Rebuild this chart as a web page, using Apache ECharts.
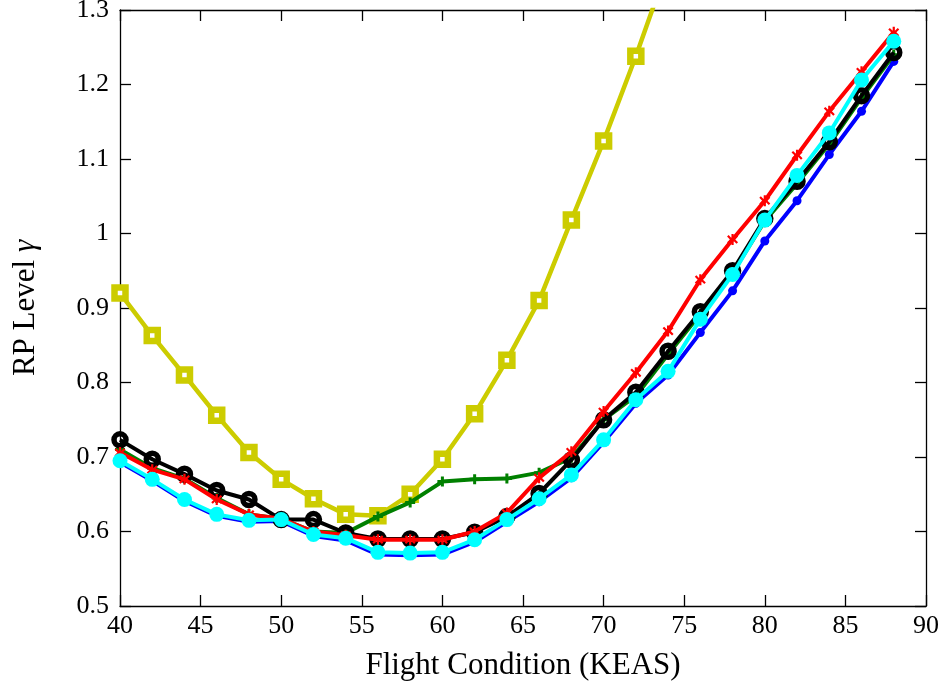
<!DOCTYPE html>
<html>
<head>
<meta charset="utf-8">
<script src="https://cdn.jsdelivr.net/npm/echarts@6/dist/echarts.min.js"></script>
<style>html,body{margin:0;padding:0;background:#fff}#c{width:945px;height:690px}</style>
</head>
<body>
<div id="c"></div>
<script>
const keas = [40,42,44,46,48,50,52,54,56,58,60,62,64,66,68,70,72,74,76,78,80,82,84,86,88];
const yellowVals = [0.92,0.863,0.81,0.756,0.706,0.67,0.644,0.623,0.621,0.65,0.697,0.758,0.83,0.91,1.018,1.124,1.238,1.36];
const blueVals  = [0.693,0.668,0.641,0.621,0.613,0.614,0.594,0.588,0.569,0.568,0.569,0.586,0.613,0.64,0.672,0.72,0.772,0.81,0.867,0.923,0.99,1.044,1.106,1.164,1.231];
const greenVals = [0.71,0.685,0.671,0.645,0.623,0.617,0.6,0.598,0.62,0.639,0.667,0.67,0.671,0.679,0.699,0.75,0.782,0.838,0.892,0.947,1.017,1.067,1.12,1.182,1.24];
const blackVals = [0.723,0.697,0.677,0.655,0.643,0.616,0.616,0.598,0.59,0.59,0.59,0.599,0.62,0.651,0.696,0.75,0.787,0.842,0.895,0.95,1.02,1.07,1.123,1.185,1.243];
const redVals   = [0.706,0.683,0.67,0.643,0.623,0.617,0.6,0.595,0.589,0.589,0.589,0.6,0.625,0.672,0.707,0.761,0.813,0.869,0.938,0.992,1.044,1.105,1.164,1.217,1.27];
const cyanVals  = [0.695,0.67,0.643,0.623,0.615,0.616,0.596,0.591,0.572,0.571,0.572,0.589,0.616,0.644,0.676,0.723,0.777,0.815,0.885,0.945,1.018,1.078,1.135,1.206,1.258];
const xTicks = [40,45,50,55,60,65,70,75,80,85,90];
const yTicks = [0.5,0.6,0.7,0.8,0.9,1.0,1.1,1.2,1.3];

const FONT = 'Liberation Serif';
const pairs = vals => vals.map((v,i)=>[keas[i], v]);
const starPath = 'path://M4,0H6V3.6L8.6,1L10,2.4L7.4,5L10,7.6L8.6,9L6,6.4V10H4V6.4L1.4,9L0,7.6L2.6,5L0,2.4L1.4,1L4,3.6Z';
const plusPath = 'path://M3.5,0H6.5V3.5H10V6.5H6.5V10H3.5V6.5H0V3.5H3.5Z';

function mk(name, vals, color, symbol, size, width, itemStyle, z) {
  return {
    name, type:'line', data: pairs(vals), z,
    symbol, symbolSize: size, showAllSymbol: true,
    lineStyle:{color, width},
    itemStyle: Object.assign({color}, itemStyle||{}),
    emphasis:{disabled:true}, clip:true
  };
}

const chart = echarts.init(document.getElementById('c'), null, {renderer:'canvas'});
const axisCommon = {
  type:'value',
  axisLine:{show:true, lineStyle:{color:'#000', width:1.3}},
  axisTick:{show:true, inside:true, length:11, lineStyle:{color:'#000', width:1.3}},
  splitLine:{show:false}
};
chart.setOption({
  animation:false,
  backgroundColor:'#fff',
  grid:{left:120, right:19, top:10, bottom:84, containLabel:false, outerBoundsMode:'none'},
  xAxis:[
    Object.assign({}, axisCommon, {
      min:40, max:90, interval:5, position:'bottom',
      name:'Flight Condition (KEAS)', nameLocation:'middle', nameGap:44,
      nameTextStyle:{fontFamily:FONT, fontSize:31, color:'#000'},
      axisLabel:{fontFamily:FONT, fontSize:26, color:'#000', margin:7,
        formatter: v => xTicks.includes(v) ? String(v) : ''}
    }),
    Object.assign({}, axisCommon, {min:40, max:90, interval:5, position:'top', axisLabel:{show:false}})
  ],
  yAxis:[
    Object.assign({}, axisCommon, {
      min:0.5, max:1.3, interval:0.1, position:'left',
      name:'RP Level {i|γ}', nameLocation:'middle', nameGap:79, nameRotate:90,
      nameTextStyle:{fontFamily:FONT, fontSize:31, color:'#000',
        rich:{i:{fontFamily:FONT, fontSize:31, fontStyle:'italic', color:'#000'}}},
      axisLabel:{fontFamily:FONT, fontSize:26, color:'#000', margin:11,
        formatter: v => { const t = yTicks.find(k=>Math.abs(k-v)<1e-6); return t===undefined ? '' : (Math.abs(t-1)<1e-6 ? '1' : t.toFixed(1)); }}
    }),
    Object.assign({}, axisCommon, {min:0.5, max:1.3, interval:0.1, position:'right', axisLabel:{show:false}})
  ],
  series:[
    mk('yellow', yellowVals, '#cccc00', 'rect', 11, 4.5, {color:'#ffffff', borderColor:'#cccc00', borderWidth:6.5}, 2),
    mk('blue', blueVals, '#0000ff', 'circle', 9, 4, null, 3),
    mk('green', greenVals, '#008000', plusPath, 10, 4, null, 4),
    mk('black', blackVals, '#000000', 'circle', 12, 4, {color:'rgba(0,0,0,0)', borderColor:'#000', borderWidth:5.5}, 5),
    mk('red', redVals, '#ff0000', starPath, 11, 4, null, 6),
    mk('cyan', cyanVals, '#00ffff', 'circle', 15, 4, null, 7)
  ]
});
</script>
</body>
</html>
